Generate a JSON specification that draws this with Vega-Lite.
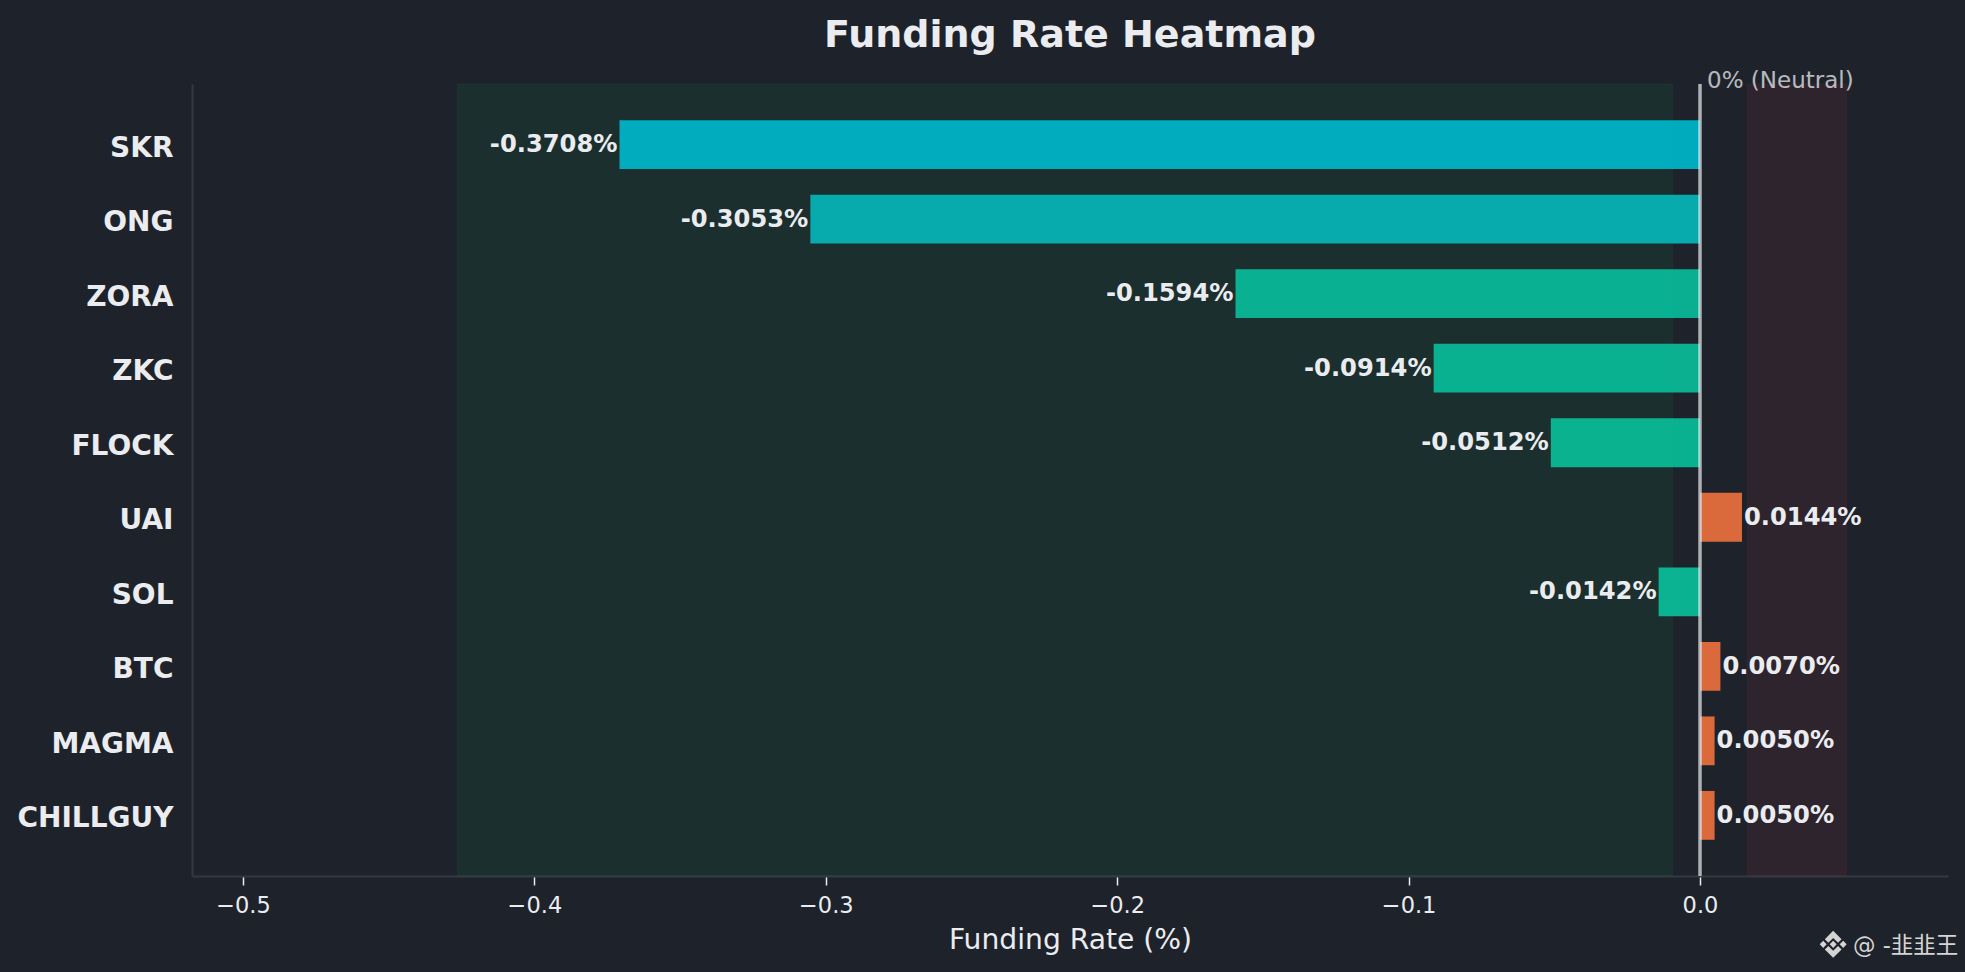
{
  "$schema": "https://vega.github.io/schema/vega-lite/v6.json",
  "width": 1756,
  "height": 792,
  "autosize": {"type": "none"},
  "padding": {"left": 192, "top": 84, "right": 17, "bottom": 96},
  "background": "#1E222A",
  "config": {"view": {"stroke": null}, "font": "DejaVu Sans"},
  "title": {
    "text": "Funding Rate Heatmap",
    "font": "DejaVu Sans",
    "fontSize": 38,
    "fontWeight": "bold",
    "color": "#EAECEF",
    "anchor": "middle",
    "offset": 15
  },
  "datasets": {
    "rates": [
      {"symbol": "SKR", "rate": -0.3708, "label": "-0.3708%"},
      {"symbol": "ONG", "rate": -0.3053, "label": "-0.3053%"},
      {"symbol": "ZORA", "rate": -0.1594, "label": "-0.1594%"},
      {"symbol": "ZKC", "rate": -0.0914, "label": "-0.0914%"},
      {"symbol": "FLOCK", "rate": -0.0512, "label": "-0.0512%"},
      {"symbol": "UAI", "rate": 0.0144, "label": "0.0144%"},
      {"symbol": "SOL", "rate": -0.0142, "label": "-0.0142%"},
      {"symbol": "BTC", "rate": 0.007, "label": "0.0070%"},
      {"symbol": "MAGMA", "rate": 0.005, "label": "0.0050%"},
      {"symbol": "CHILLGUY", "rate": 0.005, "label": "0.0050%"}
    ],
    "zones": [
      {"start": -0.4264, "end": -0.0095, "zone": "short"},
      {"start": 0.0162, "end": 0.0503, "zone": "long"}
    ],
    "notes": [
      {"symbol": "SKR", "pos": 0, "note": "0% (Neutral)"},
      {"symbol": "CHILLGUY", "pos": 0.0525, "note": "@ -韭韭王"},
      {"symbol": "CHILLGUY", "pos": 0.0457, "note": "logo"}
    ],
    "neutral": [{"pos": 0}]
  },
  "layer": [
    {
      "data": {"name": "zones"},
      "transform": [{"filter": "datum.zone == 'short'"}],
      "mark": {"type": "rect", "color": "#0ECB6F", "fillOpacity": 0.08, "stroke": "#0ECB6F", "strokeOpacity": 0.08, "strokeWidth": 1},
      "encoding": {
        "x": {
          "field": "start",
          "type": "quantitative",
          "title": "Funding Rate (%)",
          "scale": {"domain": [-0.5175, 0.0851], "nice": false, "zero": false},
          "axis": {
            "values": [-0.5, -0.4, -0.3, -0.2, -0.1, 0],
            "labelExpr": "replace(format(datum.value, '.1f'), '-', '−')",
            "labelFont": "DejaVu Sans",
            "labelFontSize": 22.5,
            "labelColor": "#EAECEF",
            "labelPadding": 9,
            "tickColor": "#EAECEF",
            "tickWidth": 1.5,
            "tickSize": 9,
            "domainColor": "#333842",
            "domainWidth": 2,
            "grid": false,
            "titleFont": "DejaVu Sans",
            "titleFontSize": 28.2,
            "titleFontWeight": "normal",
            "titleColor": "#EAECEF",
            "titlePadding": 10
          }
        },
        "x2": {"field": "end"}
      }
    },
    {
      "data": {"name": "zones"},
      "transform": [{"filter": "datum.zone == 'long'"}],
      "mark": {"type": "rect", "color": "#F6465D", "fillOpacity": 0.08, "stroke": "#F6465D", "strokeOpacity": 0.08, "strokeWidth": 1},
      "encoding": {
        "x": {"field": "start", "type": "quantitative"},
        "x2": {"field": "end"}
      }
    },
    {
      "data": {"name": "rates"},
      "mark": {"type": "bar", "opacity": 0.95},
      "encoding": {
        "y": {
          "field": "symbol",
          "type": "nominal",
          "sort": null,
          "title": null,
          "scale": {"paddingInner": 0.345, "paddingOuter": 0.486},
          "axis": {
            "labelFont": "DejaVu Sans",
            "labelFontSize": 28,
            "labelFontWeight": "bold",
            "labelColor": "#EAECEF",
            "labelPadding": 19,
            "labelOffset": 4,
            "ticks": false,
            "domainColor": "#333842",
            "domainWidth": 2,
            "grid": false
          }
        },
        "x": {"field": "rate", "type": "quantitative"},
        "x2": {"datum": 0},
        "color": {
          "field": "symbol",
          "type": "nominal",
          "legend": null,
          "scale": {
            "domain": ["SKR", "ONG", "ZORA", "ZKC", "FLOCK", "UAI", "SOL", "BTC", "MAGMA", "CHILLGUY"],
            "range": ["#00B3C6", "#06B2B4", "#09B798", "#09B896", "#09B996", "#E56F3C", "#09BA97", "#E56F3C", "#E56F3C", "#E56F3C"]
          }
        }
      }
    },
    {
      "data": {"name": "rates"},
      "transform": [{"filter": "datum.rate < 0"}],
      "mark": {"type": "text", "align": "right", "dx": -2, "dy": 0.5, "font": "DejaVu Sans", "fontSize": 24.2, "fontWeight": "bold", "color": "#EAECEF"},
      "encoding": {
        "y": {"field": "symbol", "type": "nominal", "sort": null},
        "x": {"field": "rate", "type": "quantitative"},
        "text": {"field": "label"}
      }
    },
    {
      "data": {"name": "rates"},
      "transform": [{"filter": "datum.rate > 0"}],
      "mark": {"type": "text", "align": "left", "dx": 2, "dy": 0.5, "font": "DejaVu Sans", "fontSize": 24.2, "fontWeight": "bold", "color": "#EAECEF"},
      "encoding": {
        "y": {"field": "symbol", "type": "nominal", "sort": null},
        "x": {"field": "rate", "type": "quantitative"},
        "text": {"field": "label"}
      }
    },
    {
      "data": {"name": "neutral"},
      "mark": {"type": "rule", "color": "#EAECEF", "opacity": 0.7, "strokeWidth": 3.5},
      "encoding": {"x": {"field": "pos", "type": "quantitative"}}
    },
    {
      "data": {"name": "notes"},
      "transform": [{"filter": "datum.note == '0% (Neutral)'"}],
      "mark": {"type": "text", "align": "left", "baseline": "alphabetic", "dx": 7, "dy": -57, "font": "DejaVu Sans", "fontSize": 23, "color": "#EAECEF", "opacity": 0.75},
      "encoding": {
        "y": {"field": "symbol", "type": "nominal", "sort": null},
        "x": {"field": "pos", "type": "quantitative"},
        "text": {"field": "note"}
      }
    },
    {
      "data": {"name": "notes"},
      "transform": [{"filter": "datum.note == '@ -韭韭王'"}],
      "mark": {"type": "text", "align": "left", "baseline": "alphabetic", "dy": 138, "font": "DejaVu Sans, Noto Sans CJK SC", "fontSize": 22.5, "color": "#D4D4D4"},
      "encoding": {
        "y": {"field": "symbol", "type": "nominal", "sort": null},
        "x": {"field": "pos", "type": "quantitative"},
        "text": {"field": "note"}
      }
    },
    {
      "data": {"name": "notes"},
      "transform": [{"filter": "datum.note == 'logo'"}],
      "mark": {
        "type": "point",
        "filled": true,
        "opacity": 1,
        "size": 729,
        "yOffset": 129,
        "color": "#D4D4D4",
        "shape": "M0,-.26L.26,0L0,.26L-.26,0ZM-1,0L-.74,-.26L-.48,0L-.74,.26ZM1,0L.74,-.26L.48,0L.74,.26ZM-.62,-.38L0,-1L.62,-.38L.36,-.12L0,-.48L-.36,-.12ZM-.62,.38L0,1L.62,.38L.36,.12L0,.48L-.36,.12Z"
      },
      "encoding": {
        "y": {"field": "symbol", "type": "nominal", "sort": null},
        "x": {"field": "pos", "type": "quantitative"}
      }
    }
  ]
}
